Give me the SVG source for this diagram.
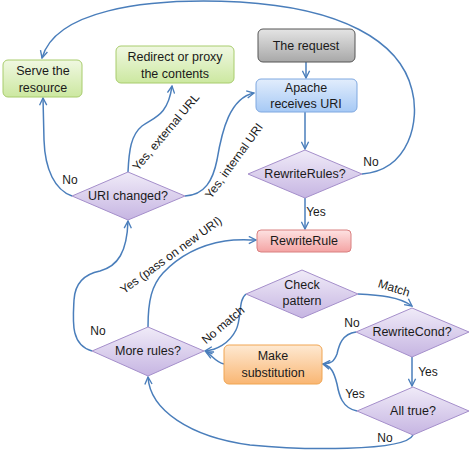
<svg xmlns="http://www.w3.org/2000/svg" width="472" height="450" viewBox="0 0 472 450">
<defs>
<linearGradient id="gGreen" x1="0" y1="0" x2="0" y2="1"><stop offset="0" stop-color="#f0f8e2"/><stop offset="1" stop-color="#cce8a0"/></linearGradient>
<linearGradient id="gGray" x1="0" y1="0" x2="0" y2="1"><stop offset="0" stop-color="#e4e4e4"/><stop offset="1" stop-color="#a8a8a8"/></linearGradient>
<linearGradient id="gBlue" x1="0" y1="0" x2="0" y2="1"><stop offset="0" stop-color="#e2edfc"/><stop offset="1" stop-color="#a6c9f5"/></linearGradient>
<linearGradient id="gRed" x1="0" y1="0" x2="0" y2="1"><stop offset="0" stop-color="#fde2e2"/><stop offset="1" stop-color="#f4a3a3"/></linearGradient>
<linearGradient id="gOrange" x1="0" y1="0" x2="0" y2="1"><stop offset="0" stop-color="#fee9d2"/><stop offset="1" stop-color="#f9b673"/></linearGradient>
<linearGradient id="gPurple" x1="0" y1="0" x2="0" y2="1"><stop offset="0" stop-color="#f0ebf8"/><stop offset="1" stop-color="#c6b5e2"/></linearGradient>
<marker id="arr" viewBox="0 0 10 10" refX="9" refY="5" markerWidth="9" markerHeight="9" markerUnits="userSpaceOnUse" orient="auto">
<path d="M1,1 L9,5 L1,9" fill="none" stroke="#4a7ebb" stroke-width="1.5"/>
</marker>
<style>
.t{font-family:"Liberation Sans",Arial,sans-serif;font-size:12.5px;fill:#1a1a1a;text-anchor:middle}
.l{font-family:"Liberation Sans",Arial,sans-serif;font-size:12px;fill:#1a1a1a;text-anchor:middle}
.c{fill:none;stroke:#4a7ebb;stroke-width:1.5;marker-end:url(#arr)}
.green{fill:url(#gGreen);stroke:#a8cc6c;stroke-width:1}
.gray{fill:url(#gGray);stroke:#555;stroke-width:1}
.blue{fill:url(#gBlue);stroke:#7fa8e0;stroke-width:1}
.red{fill:url(#gRed);stroke:#d98080;stroke-width:1}
.orange{fill:url(#gOrange);stroke:#f0a552;stroke-width:1}
.dia{fill:url(#gPurple);stroke:#a58fcb;stroke-width:1}
</style>
</defs>
<rect width="472" height="450" fill="#fff"/>
<g id="connectors">
<path class="c" d="M306,62 L306,78"/>
<path class="c" d="M305,112 L305,149"/>
<path class="c" d="M305,198 L305,229"/>
<path class="c" d="M362,174 C410,170 420,120 412,90 C400,40 340,8 240,2 C140,-3 55,12 42,58"/>
<path class="c" d="M185,196 C205,195 213,180 217,160 C222,130 230,98 254,93"/>
<path class="c" d="M128,172 C129,150 131,135 142,126 C155,117 168,115 172,86"/>
<path class="c" d="M72,196 C55,190 45,170 44,140 L43,98"/>
<path class="c" d="M92,351 C70,345 73,320 74,300 C75,282 85,274 100,271 C118,266 127,252 128,221"/>
<path class="c" d="M148,327 C148,300 152,285 163,273 C180,255 200,245 225,241 C238,239 248,240 256,240"/>
<path class="c" d="M246,294 C238,300 242,318 236,330 C229,344 216,350 205,351"/>
<path class="c" d="M224,364 C215,362 212,355 206,352"/>
<path class="c" d="M358,294 C380,295 400,297 412,306"/>
<path class="c" d="M356,332 C342,334 339,345 337,354 C334,362 330,364 323,364"/>
<path class="c" d="M412,357 L412,386"/>
<path class="c" d="M357,411 C342,408 339,395 337,384 C334,372 331,366 323,364"/>
<path class="c" d="M413,435 C405,452 300,450 250,445 C190,437 150,410 148,377"/>
</g>
<g id="labels">
<text class="l" x="70" y="184">No</text>
<text class="l" x="98" y="335">No</text>
<text class="l" x="371" y="166">No</text>
<text class="l" x="316" y="216">Yes</text>
<text class="l" x="352" y="327">No</text>
<text class="l" x="428" y="376">Yes</text>
<text class="l" x="355" y="398">Yes</text>
<text class="l" x="385" y="442">No</text>
<text class="l" transform="translate(166,132) rotate(-50)" y="4">Yes, external URL</text>
<text class="l" transform="translate(234,161) rotate(-54)" y="4">Yes, internal URI</text>
<text class="l" transform="translate(171,255) rotate(-36)" y="4">Yes (pass on new URI)</text>
<text class="l" transform="translate(223,325) rotate(-40)" y="4">No match</text>
<text class="l" transform="translate(394,288) rotate(17)" y="4">Match</text>
</g>
<g id="serve"><rect class="green" x="3" y="60" width="79" height="37" rx="5"/><text class="t" x="43" y="75">Serve the</text><text class="t" x="43" y="92">resource</text></g>
<g id="redirect"><rect class="green" x="116" y="46" width="118" height="37" rx="5"/><text class="t" x="175" y="61">Redirect or proxy</text><text class="t" x="175" y="78">the contents</text></g>
<g id="request"><rect class="gray" x="258" y="29" width="97" height="33" rx="5"/><text class="t" x="306" y="50">The request</text></g>
<g id="apache"><rect class="blue" x="256" y="79" width="101" height="33" rx="5"/><text class="t" x="306" y="92">Apache</text><text class="t" x="306" y="108">receives URI</text></g>
<g id="rewriterules"><polygon class="dia" points="305,150 362,174 305,198 248,174"/><text class="t" x="305" y="178">RewriteRules?</text></g>
<g id="urichanged"><polygon class="dia" points="128,172 185,196 128,220 72,196"/><text class="t" x="128" y="200">URI changed?</text></g>
<g id="rewriterule"><rect class="red" x="257" y="230" width="94" height="22" rx="4"/><text class="t" x="304" y="245">RewriteRule</text></g>
<g id="checkpattern"><polygon class="dia" points="302,270 358,294 302,318 246,294"/><text class="t" x="302" y="289">Check</text><text class="t" x="302" y="305">pattern</text></g>
<g id="rewritecond"><polygon class="dia" points="412,308 469,332 412,357 356,332"/><text class="t" x="412" y="336">RewriteCond?</text></g>
<g id="makesub"><rect class="orange" x="224" y="345" width="98" height="39" rx="5"/><text class="t" x="273" y="360">Make</text><text class="t" x="273" y="377">substitution</text></g>
<g id="alltrue"><polygon class="dia" points="413,387 469,411 413,435 357,411"/><text class="t" x="413" y="415">All true?</text></g>
<g id="morerules"><polygon class="dia" points="148,327 204,351 148,376 92,351"/><text class="t" x="148" y="355">More rules?</text></g>
</svg>
